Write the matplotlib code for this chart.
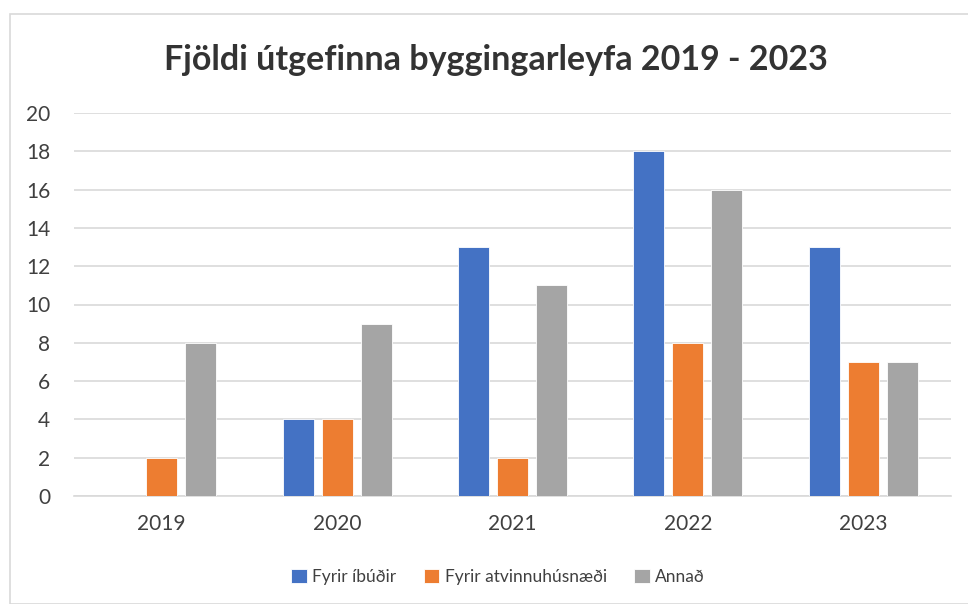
import matplotlib
matplotlib.use("Agg")
import matplotlib.pyplot as plt
import numpy as np
from matplotlib.patches import Rectangle

categories = ["2019", "2020", "2021", "2022", "2023"]
series_names = ["Fyrir íbúðir", "Fyrir atvinnuhúsnæði", "Annað"]
ibudir = [0, 4, 13, 18, 13]
atvinnu = [2, 4, 2, 8, 7]
annad = [8, 9, 11, 16, 7]
colors = ["#4472C4", "#ED7D31", "#A5A5A5"]
yticks = list(range(0, 21, 2))
title = "Fjöldi útgefinna byggingarleyfa 2019 - 2023"

plt.rcParams['font.family'] = ['Lato', 'DejaVu Sans']

fig = plt.figure(figsize=(9.68, 6.04), dpi=100)
W, H = 968, 604
ax = fig.add_axes([74 / W, 1 - 496 / H, (951 - 74) / W, (496 - 113) / H])

x = np.arange(len(categories))
bw = 0.177
step = 0.222
for i, (vals, name, c) in enumerate(zip([ibudir, atvinnu, annad], series_names, colors)):
    ax.bar(x + (i - 1) * step, vals, width=bw, color=c, label=name,
           edgecolor="white", linewidth=0.6, zorder=3)

ax.set_xlim(-0.5, len(categories) - 0.5)
ax.set_ylim(0, 20)
ax.set_yticks(yticks)
ax.set_xticks(x)
ax.set_xticklabels(categories)
ax.yaxis.grid(True, color="#D9D9D9", linewidth=1.2, zorder=0)
for s in ["top", "right", "left"]:
    ax.spines[s].set_visible(False)
ax.spines["bottom"].set_color("#D9D9D9")
ax.spines["bottom"].set_linewidth(1.2)
ax.tick_params(axis="both", length=0, labelsize=15, colors="#404040")
ax.tick_params(axis="y", pad=17)
ax.tick_params(axis="x", pad=13)

fig.text(496 / W, 1 - 60 / H, title, ha="center", va="center", fontsize=24.5,
         fontweight="bold", color="#333333")

leg = fig.legend(loc="center", bbox_to_anchor=(498 / W, 1 - 577 / H), ncol=3,
                 frameon=False, fontsize=12.5, handlelength=0.9, handleheight=0.9,
                 handletextpad=0.3, columnspacing=1.6)
for t in leg.get_texts():
    t.set_color("#404040")

# chart border
fig.patches.append(Rectangle((10 / W, 0), 1.5, 1 - 14 / H, transform=fig.transFigure,
                             fill=False, edgecolor="#D9D9D9", linewidth=1.2))

fig.savefig("out.png", dpi=100, facecolor="white")
